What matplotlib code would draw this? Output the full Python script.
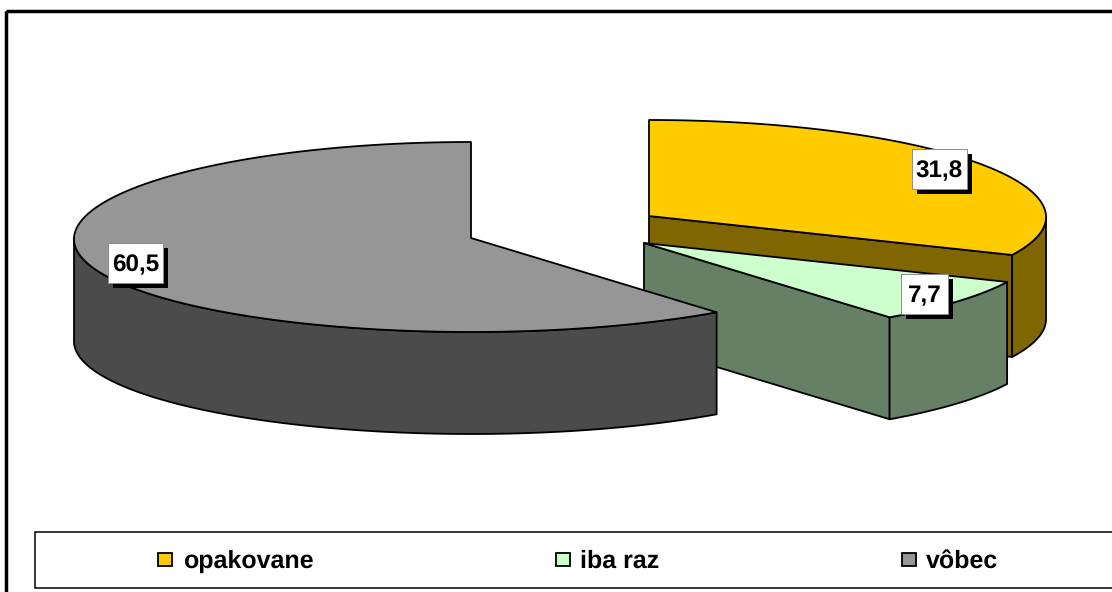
import numpy as np
import matplotlib
matplotlib.use('Agg')
from matplotlib import pyplot as plt
from matplotlib.patches import Polygon, Rectangle

plt.rcParams['font.family'] = ['Liberation Sans', 'DejaVu Sans']
plt.rcParams['text.hinting'] = 'no_hinting'

# chart data
labels = ['opakovane', 'iba raz', 'vôbec']
values = [31.8, 7.7, 60.5]
value_texts = ['31,8', '7,7', '60,5']

top_colors = ['#FFCC00', '#CCFFCC', '#969696']
side_colors = ['#806600', '#668066', '#4B4B4B']

# layout in pixels of the picture
W, H = 1112, 592
centers = [(649, 216), (644, 243), (471, 238)]
RX = 397
RY_BACK = 96
RY_FRONT = 94
DEPTH = 102
PERSPECTIVE = 0.012
label_boxes = [(912, 149, 55, 40), (901, 274, 47, 40), (108, 243, 55, 40)]
legend_swatch_x = [158, 556, 902]
legend_text_x = [183, 580, 926]

LW = 1.3


def rim(cx, cy, a0, a1):
    # points on the slice edge, angles in degrees clockwise from 12 o'clock
    t = np.radians(np.linspace(a0, a1, 120))
    ry = np.where(np.cos(t) > 0, RY_BACK, RY_FRONT)
    rx = RX * (1 - PERSPECTIVE * np.cos(t))
    return np.column_stack([cx + rx * np.sin(t), cy - ry * np.cos(t)])


def shift(pts):
    return pts + np.array([0, DEPTH])


fig = plt.figure(figsize=(W / 100, H / 100), dpi=100)
ax = fig.add_axes([0, 0, 1, 1])
ax.set_xlim(0, W)
ax.set_ylim(H, 0)
ax.axis('off')

# outer frame of the chart, runs off the picture right and below
ax.add_patch(Rectangle((5.5, 10.5), W + 20, H + 20, fill=False, ec='black', lw=2.5))

edges = np.cumsum([0] + values) / sum(values) * 360

for i in range(len(values)):
    cx, cy = centers[i]
    a0, a1 = edges[i], edges[i + 1]
    top = rim(cx, cy, a0, a1)
    apex = np.array([[cx, cy]])

    # cut face at the end of the slice, only seen while it looks to the front
    if a1 < 180:
        p = top[-1:]
        face = np.vstack([apex, p, shift(p), shift(apex)])
        ax.add_patch(Polygon(face, closed=True, fc=side_colors[i], ec='black', lw=LW, joinstyle='round'))

    # outer wall, front half only
    w0, w1 = max(a0, 90), min(a1, 270)
    if w1 > w0:
        wall = rim(cx, cy, w0, w1)
        ax.add_patch(Polygon(np.vstack([wall, shift(wall)[::-1]]), closed=True,
                             fc=side_colors[i], ec='black', lw=LW, joinstyle='round'))

    ax.add_patch(Polygon(np.vstack([apex, top]), closed=True, fc=top_colors[i], ec='black', lw=LW, joinstyle='round'))

# value labels with the hard shadow
for txt, (x, y, w, h) in zip(value_texts, label_boxes):
    ax.add_patch(Rectangle((x + 5, y + 5), w, h, fc='black', ec='none'))
    ax.add_patch(Rectangle((x, y), w, h, fc='white', ec='#8c8c8c', lw=0.7))
    ax.text(x + w / 2, y + h / 2 + 2, txt, ha='center', va='center', fontsize=17.5, fontweight='bold', color='black')

# legend
ax.add_patch(Rectangle((35, 532), W + 20, 56, fc='white', ec='black', lw=1.1))
for i in range(len(labels)):
    ax.add_patch(Rectangle((legend_swatch_x[i], 553), 14, 13, fc=top_colors[i], ec='black', lw=1.3))
    ax.text(legend_text_x[i], 568, labels[i], ha='left', va='baseline', fontsize=18, fontweight='bold', color='black')

plt.savefig('out.png', dpi=100)
plt.close()
